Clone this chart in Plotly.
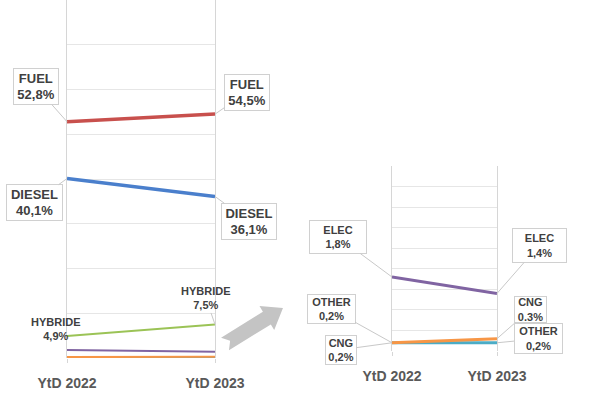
import plotly.graph_objects as go
import math

W, H = 604, 393

categories = ["YtD 2022", "YtD 2023"]
fuel = [52.8, 54.5]
diesel = [40.1, 36.1]
hybride = [4.9, 7.5]
elec = [1.8, 1.4]
cng = [0.2, 0.3]
other = [0.2, 0.2]

C_FUEL = "#C8504D"
C_DIESEL = "#4A7FCC"
C_HYB = "#9BC356"
C_ELEC = "#8064A2"
C_CNG = "#F79646"
C_OTHER = "#4BACC6"

def pct(v):
    return f"{v:.1f}".replace(".", ",") + "%"

fig = go.Figure()

# left panel
for vals, col, w in [(other, C_OTHER, 2), (cng, C_CNG, 2), (elec, C_ELEC, 2),
                     (hybride, C_HYB, 2), (diesel, C_DIESEL, 3.5), (fuel, C_FUEL, 3.5)]:
    fig.add_trace(go.Scatter(x=categories, y=vals, mode="lines", line=dict(color=col, width=w),
                             xaxis="x", yaxis="y", showlegend=False, hoverinfo="skip", cliponaxis=False))
# right panel
for vals, col, w in [(other, C_OTHER, 3), (cng, C_CNG, 3), (elec, C_ELEC, 3)]:
    fig.add_trace(go.Scatter(x=categories, y=vals, mode="lines", line=dict(color=col, width=w),
                             xaxis="x2", yaxis="y2", showlegend=False, hoverinfo="skip", cliponaxis=False))

FONT = "Liberation Sans, Arial, sans-serif"
TXT = "#404040"

xcommon = dict(type="category", range=[0, 1], showgrid=False,
               showline=False, zeroline=False, ticks="outside", ticklen=4, tickcolor="#d6d6d6",
               ticklabelstandoff=8, automargin=False,
               tickfont=dict(family=FONT, size=14, color="#595959", weight="bold"))
ycommon = dict(showticklabels=False, showgrid=True, gridcolor="#e6e6e6", gridwidth=1,
               zeroline=False, showline=True, mirror=True, linecolor="#d6d6d6", linewidth=1,
               ticks="", automargin=False)

fig.update_layout(
    width=W, height=H, margin=dict(l=0, r=0, t=0, b=0, autoexpand=False),
    paper_bgcolor="white", plot_bgcolor="white",
    xaxis=dict(domain=[67 / W, 215 / W], anchor="y", **xcommon),
    yaxis=dict(domain=[35 / H, 1.0], range=[0, 80], dtick=10, anchor="x", **ycommon),
    xaxis2=dict(domain=[392 / W, 497 / W], anchor="y2", **xcommon),
    yaxis2=dict(domain=[42 / H, 227 / H], range=[0, 4.5], dtick=0.5, anchor="x2", **ycommon),
)

def callout(xref, yref, xi, val, name, ax, ay, size, box=None, arrow=True):
    d = dict(x=categories[xi], y=val, xref=xref, yref=yref,
             text=f"<b>{name}<br>{pct(val)}</b>", align="center", valign="middle",
             font=dict(family=FONT, size=size, color=TXT))
    if box:
        d.update(bordercolor="#d0d0d0", borderwidth=1, borderpad=1, bgcolor="white",
                 width=box[0] - 4, height=box[1] - 4)
    if arrow:
        d.update(showarrow=True, arrowhead=0, arrowwidth=1, arrowcolor="#c8c8c8", ax=ax, ay=ay)
    else:
        d.update(showarrow=False, xshift=ax, yshift=-ay)
    fig.add_annotation(**d)

callout("x", "y", 0, fuel[0], "FUEL", -31, -35, 13, box=(46, 37))
callout("x", "y", 1, fuel[1], "FUEL", 32, -22, 13, box=(46, 37))
callout("x", "y", 0, diesel[0], "DIESEL", -33, 24, 13, box=(57, 37))
callout("x", "y", 1, diesel[1], "DIESEL", 34, 25, 13, box=(56, 37))
callout("x", "y", 0, hybride[0], "HYBRIDE", -11, -7, 11, arrow=False)
callout("x", "y", 1, hybride[1], "HYBRIDE", -9, -26, 11)

callout("x2", "y2", 0, elec[0], "ELEC", -54, -40, 11, box=(58, 34))
callout("x2", "y2", 1, elec[1], "ELEC", 42, -48, 11, box=(55, 35))
callout("x2", "y2", 0, other[0], "OTHER", -61, -34, 11, box=(49, 30))
callout("x2", "y2", 0, cng[0], "CNG", -51, 7, 11, box=(32, 30))
callout("x2", "y2", 1, cng[1], "CNG", 33, -29, 11, box=(33, 27))
callout("x2", "y2", 1, other[1], "OTHER", 41, -4, 11, box=(49, 31))

# decorative block arrow between panels (pixel geometry -> paper coords)
tx, ty = 225, 344   # tail centre
px_, py_ = 283, 308  # tip
dx, dy = px_ - tx, py_ - ty
L = math.hypot(dx, dy)
ux, uy = dx / L, dy / L
nx, ny = -uy, ux
sw, hw, hl, notch = 7.5, 14, 19, 6
def P(a, b):
    x = tx + ux * a + nx * b
    y = ty + uy * a + ny * b
    return f"{x / W:.4f},{1 - y / H:.4f}"
pts = [P(0, -sw), P(L - hl, -sw), P(L - hl, -hw), P(L, 0), P(L - hl, hw), P(L - hl, sw), P(0, sw), P(notch, 0)]
path = "M " + " L ".join(pts) + " Z"
fig.add_shape(type="path", path=path, xref="paper", yref="paper",
              fillcolor="#c4c4c4", line=dict(width=0))

fig.write_html("out.html", config={"displayModeBar": False},
               post_script="document.body.style.margin='0';document.body.style.overflow='hidden';")
